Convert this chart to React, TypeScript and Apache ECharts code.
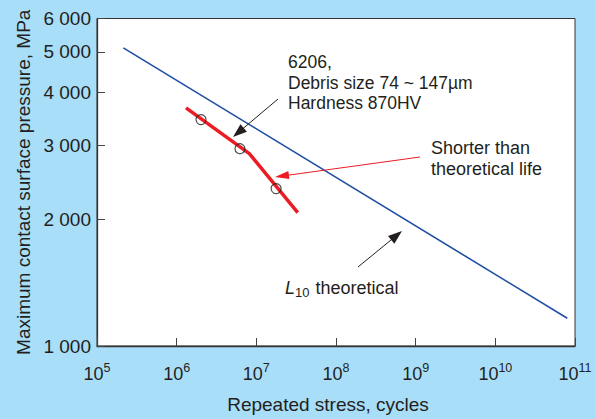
import React, { useEffect, useRef } from "react";
import * as echarts from "echarts";

// ---- data ----
const xTickValues = [1e5, 1e6, 1e7, 1e8, 1e9, 1e10, 1e11];
const yTickValues = [1000, 2000, 3000, 4000, 5000, 6000];
const yTickLabels = ["1 000", "2 000", "3 000", "4 000", "5 000", "6 000"];

const theoreticalCycles = [2.14e5, 8.0e10];
const theoreticalPressure = [5110, 1164];

const testLineCycles = [1.31e6, 8.17e6, 3.31e7];
const testLinePressure = [3681, 2864, 2075];

const testPointCycles = [2.02e6, 6.23e6, 1.77e7];
const testPointPressure = [3451, 2942, 2366];

const FONT = "'Liberation Sans', Arial, Helvetica, sans-serif";
const TXT = "#231f20";

function arrow(sx: number, sy: number, tx: number, ty: number, color: string, len: number, w: number, lw: number) {
  const dx = tx - sx;
  const dy = ty - sy;
  const L = Math.sqrt(dx * dx + dy * dy);
  const ux = dx / L;
  const uy = dy / L;
  const bx = tx - ux * len;
  const by = ty - uy * len;
  const nx = -uy;
  const ny = ux;
  return [
    {
      type: "line",
      shape: { x1: sx, y1: sy, x2: bx + ux * 2, y2: by + uy * 2 },
      style: { stroke: color, lineWidth: lw },
      z: 100,
    },
    {
      type: "polygon",
      shape: {
        points: [
          [tx, ty],
          [bx + (nx * w) / 2, by + (ny * w) / 2],
          [bx - (nx * w) / 2, by - (ny * w) / 2],
        ],
      },
      style: { fill: color },
      z: 100,
    },
  ];
}

export default function App() {
  const ref = useRef<HTMLDivElement>(null);
  useEffect(() => {
    if (!ref.current) return;
    const chart = echarts.init(ref.current, null, { renderer: "svg" });
    const option: any = {
      animation: false,
      backgroundColor: "#a9def8",
      grid: {
        left: 97,
        right: 20,
        top: 18.5,
        bottom: 66.5,
        show: true,
        backgroundColor: "#ffffff",
        borderColor: "#333333",
        borderWidth: 1,
      },
      xAxis: {
        type: "log",
        logBase: 10,
        min: 1e5,
        max: 1e11,
        name: "Repeated stress, cycles",
        nameLocation: "middle",
        nameGap: 49,
        nameTextStyle: { fontFamily: FONT, fontSize: 19, color: TXT, padding: [0, 16, 0, 0] },
        axisLine: { show: true, lineStyle: { color: "#333333", width: 1.3 } },
        axisTick: { show: true, inside: true, length: 8, lineStyle: { color: "#444444" }, customValues: xTickValues },
        splitLine: { show: false },
        minorTick: { show: false },
        axisLabel: {
          customValues: xTickValues,
          margin: 15,
          fontFamily: FONT,
          fontSize: 18,
          color: TXT,
          formatter: (v: number) => `{b|10}{sup|${Math.round(Math.log10(v))}}`,
          rich: {
            b: { fontFamily: FONT, fontSize: 18, color: TXT, padding: [4, 0, 0, 0] },
            sup: { fontFamily: FONT, fontSize: 12.5, color: TXT, padding: [0, 0, 8, 0] },
          },
        },
      },
      yAxis: {
        type: "log",
        logBase: 10,
        min: 1000,
        max: 6000,
        name: "Maximum contact surface pressure, MPa",
        nameLocation: "middle",
        nameGap: 64,
        nameTextStyle: { fontFamily: FONT, fontSize: 19, color: TXT },
        axisLine: { show: true, lineStyle: { color: "#333333", width: 1.3 } },
        axisTick: { show: true, inside: true, length: 8, lineStyle: { color: "#444444" }, customValues: yTickValues },
        splitLine: { show: false },
        minorTick: { show: false },
        axisLabel: {
          customValues: yTickValues,
          margin: 6,
          fontFamily: FONT,
          fontSize: 19,
          color: TXT,
          formatter: (v: number) => {
            const i = yTickValues.findIndex((t) => Math.abs(t - v) / t < 1e-3);
            return i >= 0 ? `{a|${yTickLabels[i]}}` : "";
          },
          rich: {
            a: { fontFamily: FONT, fontSize: 19, color: TXT },
          },
        },
      },
      series: [
        {
          type: "line",
          data: theoreticalCycles.map((c, i) => [c, theoreticalPressure[i]]),
          showSymbol: false,
          symbol: "none",
          lineStyle: { color: "#1f4fa3", width: 1.6 },
          z: 2,
        },
        {
          type: "line",
          data: testLineCycles.map((c, i) => [c, testLinePressure[i]]),
          showSymbol: false,
          symbol: "none",
          lineStyle: { color: "#ec1c24", width: 3.5, join: "round" },
          z: 3,
        },
        {
          type: "scatter",
          data: testPointCycles.map((c, i) => [c, testPointPressure[i]]),
          symbol: "circle",
          symbolSize: 10,
          itemStyle: { color: "rgba(0,0,0,0)", borderColor: "#222222", borderWidth: 1.2 },
          z: 4,
        },
      ],
      graphic: [
        {
          type: "text",
          x: 288,
          y: 52,
          style: {
            text: "6206,\nDebris size 74 ~ 147\u00b5m\nHardness 870HV",
            fontFamily: FONT,
            fontSize: 17.5,
            lineHeight: 20.5,
            fill: TXT,
            verticalAlign: "top",
            align: "left",
          },
          z: 100,
        },
        {
          type: "text",
          x: 431,
          y: 137.5,
          style: {
            text: "Shorter than\ntheoretical life",
            fontFamily: FONT,
            fontSize: 18,
            lineHeight: 21,
            fill: TXT,
            verticalAlign: "top",
            align: "left",
          },
          z: 100,
        },
        {
          type: "text",
          x: 285,
          y: 288,
          style: {
            text: "{i|L}{sub|10} theoretical",
            fontFamily: FONT,
            fontSize: 18,
            fill: TXT,
            verticalAlign: "middle",
            align: "left",
            rich: {
              i: { fontFamily: FONT, fontSize: 18, fontStyle: "italic", fill: TXT },
              sub: { fontFamily: FONT, fontSize: 13, fill: TXT, padding: [9, 1, 0, 0] },
            },
          },
          z: 100,
        },
        ...arrow(278, 99, 233, 137, "#231f20", 14, 10, 1),
        ...arrow(420, 157, 275, 177, "#ec1c24", 14, 8, 1),
        ...arrow(358, 267, 402, 231, "#231f20", 14, 10, 1),
      ],
    };
    chart.setOption(option);
    return () => chart.dispose();
  }, []);
  return (
    <div
      ref={ref}
      style={{ position: "fixed", left: 0, top: 0, width: 595, height: 419 }}
    />
  );
}
